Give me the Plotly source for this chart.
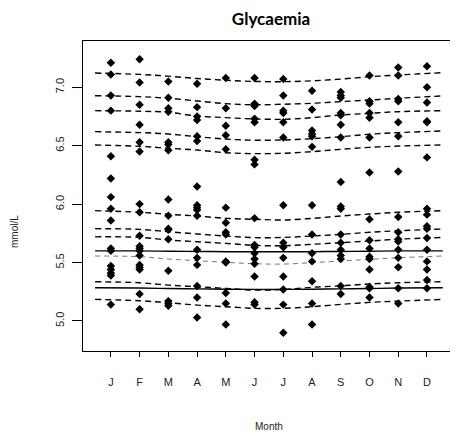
import plotly.graph_objects as go

# ---- data ----
month_labels = ["J", "F", "M", "A", "M", "J", "J", "A", "S", "O", "N", "D"]
months = list(range(1, 13))

glyc_jan = [7.21, 7.11, 6.93, 6.80, 6.41, 6.22, 6.06, 5.96, 5.86, 5.62, 5.60, 5.47, 5.44, 5.41, 5.39, 5.14]
glyc_feb = [7.24, 7.04, 6.85, 6.68, 6.53, 6.45, 6.00, 5.93, 5.73, 5.64, 5.62, 5.60, 5.56, 5.48, 5.46, 5.44, 5.23, 5.10]
glyc_mar = [7.05, 6.91, 6.82, 6.79, 6.53, 6.51, 6.46, 6.04, 5.90, 5.79, 5.78, 5.70, 5.43, 5.17, 5.15, 5.13]
glyc_apr = [7.03, 6.83, 6.75, 6.72, 6.58, 6.54, 6.15, 5.99, 5.97, 5.95, 5.90, 5.61, 5.54, 5.48, 5.30, 5.20, 5.03]
glyc_may = [7.08, 6.82, 6.67, 6.59, 6.47, 5.97, 5.84, 5.76, 5.74, 5.51, 5.50, 5.24, 5.15, 4.97]
glyc_jun = [7.08, 6.86, 6.84, 6.73, 6.70, 6.38, 6.34, 5.88, 5.65, 5.63, 5.58, 5.53, 5.49, 5.38, 5.16, 5.14]
glyc_jul = [7.07, 6.93, 6.80, 6.78, 6.70, 6.57, 5.99, 5.67, 5.63, 5.54, 5.38, 5.27, 5.14, 4.90]
glyc_aug = [6.97, 6.81, 6.63, 6.60, 6.58, 6.49, 5.99, 5.74, 5.58, 5.51, 5.34, 5.15, 4.97]
glyc_sep = [6.96, 6.93, 6.91, 6.78, 6.76, 6.68, 6.57, 6.19, 5.98, 5.96, 5.74, 5.67, 5.61, 5.56, 5.53, 5.30, 5.23]
glyc_oct = [7.10, 6.88, 6.86, 6.78, 6.74, 6.57, 6.27, 5.87, 5.69, 5.62, 5.55, 5.53, 5.44, 5.29, 5.28, 5.20]
glyc_nov = [7.17, 7.10, 6.90, 6.88, 6.70, 6.58, 6.28, 5.89, 5.76, 5.70, 5.68, 5.61, 5.54, 5.46, 5.28, 5.15]
glyc_dec = [7.18, 7.00, 6.87, 6.71, 6.70, 6.40, 5.96, 5.91, 5.81, 5.79, 5.71, 5.61, 5.51, 5.44, 5.35, 5.28]

monthly_values = [glyc_jan, glyc_feb, glyc_mar, glyc_apr, glyc_may, glyc_jun,
                  glyc_jul, glyc_aug, glyc_sep, glyc_oct, glyc_nov, glyc_dec]

# fitted curves, read at these month positions
curve_x = [0.45, 2, 3, 4, 5, 6, 7, 8, 9, 10, 11, 12.55]
dashed_curves = [
    [7.122, 7.11, 7.095, 7.075, 7.06, 7.05, 7.048, 7.055, 7.07, 7.09, 7.105, 7.125],
    [6.928, 6.92, 6.906, 6.883, 6.86, 6.85, 6.855, 6.863, 6.877, 6.891, 6.906, 6.926],
    [6.80, 6.795, 6.786, 6.754, 6.74, 6.729, 6.726, 6.74, 6.763, 6.777, 6.791, 6.80],
    [6.62, 6.612, 6.60, 6.577, 6.557, 6.547, 6.549, 6.56, 6.577, 6.598, 6.612, 6.626],
    [6.506, 6.495, 6.478, 6.463, 6.44, 6.432, 6.435, 6.449, 6.469, 6.486, 6.497, 6.506],
    [5.944, 5.93, 5.913, 5.898, 5.878, 5.87, 5.864, 5.878, 5.898, 5.915, 5.93, 5.944],
    [5.79, 5.784, 5.764, 5.744, 5.727, 5.713, 5.715, 5.727, 5.741, 5.759, 5.772, 5.787],
    [5.72, 5.716, 5.693, 5.678, 5.664, 5.647, 5.644, 5.656, 5.67, 5.684, 5.70, 5.715],
    [5.336, 5.327, 5.307, 5.293, 5.279, 5.264, 5.27, 5.288, 5.301, 5.316, 5.327, 5.336],
    [5.185, 5.173, 5.156, 5.136, 5.122, 5.108, 5.108, 5.122, 5.142, 5.159, 5.17, 5.185],
]
thin_dashed_curve = [5.556, 5.55, 5.53, 5.516, 5.502, 5.49, 5.487, 5.499, 5.513, 5.527, 5.541, 5.556]
solid_curves = [
    [5.60, 5.60, 5.597, 5.595, 5.593, 5.592, 5.592, 5.593, 5.595, 5.597, 5.60, 5.60],
    [5.284, 5.282, 5.278, 5.275, 5.272, 5.27, 5.27, 5.272, 5.275, 5.278, 5.282, 5.284],
]

y_ticks = [5.0, 5.5, 6.0, 6.5, 7.0]

# ---- figure ----
fig = go.Figure()

for c in dashed_curves:
    fig.add_trace(go.Scatter(x=curve_x, y=c, mode="lines", line_shape="spline",
                             line=dict(color="black", width=1.4, dash="6px,4px"),
                             hoverinfo="skip", showlegend=False))
fig.add_trace(go.Scatter(x=curve_x, y=thin_dashed_curve, mode="lines", line_shape="spline",
                         line=dict(color="#666666", width=0.9, dash="5px,4px"),
                         hoverinfo="skip", showlegend=False))
for c in solid_curves:
    fig.add_trace(go.Scatter(x=curve_x, y=c, mode="lines", line_shape="spline",
                             line=dict(color="black", width=1.4),
                             hoverinfo="skip", showlegend=False))

px_x, px_y = [], []
for m, vals in zip(months, monthly_values):
    px_x += [m] * len(vals)
    px_y += vals
fig.add_trace(go.Scatter(x=px_x, y=px_y, mode="markers",
                         marker=dict(symbol="diamond", size=6.5, color="black"),
                         showlegend=False))

axis_font = dict(family="Arial", size=11, color="#222222")

# page body has an 8px default margin, so the figure is 8px smaller than the window
W, H = 450, 437
L, R, T, B = 75, 4, 33, 94
plot_w = W - L - R
plot_h = H - T - B

fig.update_layout(
    width=W, height=H,
    margin=dict(l=L, r=R, t=T, b=B, autoexpand=False),
    paper_bgcolor="white", plot_bgcolor="white",
    title=dict(text="<b>Glycaemia</b>", x=263 / W, xanchor="center",
               y=1 - 11 / H, yanchor="middle",
               font=dict(family="Lato", size=17, color="black")),
    xaxis=dict(range=[0.03, 12.94], tickvals=months, ticktext=month_labels,
               showgrid=False, zeroline=False, showline=True, mirror=True, automargin=False,
               linecolor="black", linewidth=1, ticks="outside", ticklen=5,
               tickcolor="black", ticklabelstandoff=16, tickfont=axis_font),
    yaxis=dict(range=[4.743, 7.396], tickvals=y_ticks, ticktext=[f"{v:.1f}" for v in y_ticks],
               showgrid=False, zeroline=False, showline=True, mirror=True, automargin=False,
               linecolor="black", linewidth=1, ticks="outside", ticklen=10,
               tickcolor="black", tickangle=-90, ticklabelstandoff=4, tickfont=axis_font),
    annotations=[
        dict(text="Month", x=0.5, xref="paper", y=(H - B - 418) / plot_h, yref="paper",
             xanchor="center", yanchor="middle", showarrow=False,
             font=dict(family="Arial", size=10, color="#222222")),
        dict(text="mmol/L", x=(6 - L) / plot_w, xref="paper", y=(H - B - 224) / plot_h, yref="paper",
             xanchor="center", yanchor="middle", showarrow=False, textangle=-90,
             font=dict(family="Arial", size=10, color="#222222")),
    ],
)

fig.write_html("out.html")
